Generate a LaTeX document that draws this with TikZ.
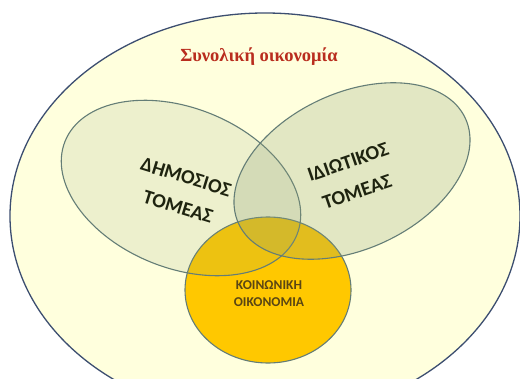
\documentclass[tikz,border=0pt]{standalone}
\usepackage{fontspec}
\setmainfont{Liberation Serif}
\newfontfamily\calib{Carlito}
\usetikzlibrary{shapes.geometric}
\definecolor{outerfill}{RGB}{255,255,221}
\definecolor{outerline}{RGB}{60,78,112}
\definecolor{secfill}{RGB}{140,160,120}
\definecolor{secline}{RGB}{100,125,118}
\definecolor{goldfill}{RGB}{255,200,0}
\definecolor{titlered}{RGB}{185,45,30}
\definecolor{textdark}{RGB}{30,35,15}
\definecolor{socialtext}{RGB}{90,70,20}
\tikzset{
  setshape/.style={ellipse, inner sep=0pt},
  sector/.style={setshape, draw=secline, line width=1.1pt, fill=secfill},
  sectortext/.style={font=\calib\bfseries\fontsize{20}{22}\selectfont, text=textdark, inner sep=0pt},
  socialfont/.style={font=\calib\bfseries\fontsize{13.5}{15}\selectfont, text=socialtext, inner sep=0pt},
}
\begin{document}
\begin{tikzpicture}[x=1pt,y=-1pt]
\useasboundingbox (0,0) rectangle (520,378);
\fill[white] (0,0) rectangle (520,378);
\clip (0,0) rectangle (520,378);
\node[setshape, draw=outerline, line width=1.3pt, fill=outerfill,
      minimum width=510pt, minimum height=406pt] (total) at (265,216) {};
\node[setshape, draw=secline, line width=1.1pt, fill=goldfill,
      minimum width=166pt, minimum height=146pt] (social) at (268,290) {};
\node[sector, fill opacity=0.15, minimum width=250pt, minimum height=160pt, rotate=-22] (public) at (181,188) {};
\node[sector, fill opacity=0.25, minimum width=250pt, minimum height=156pt, rotate=25] (private) at (352,171) {};
\node[font=\bfseries\fontsize{18.5}{20}\selectfont, text=titlered] (title) at (259,57) {Συνολική οικονομία};
\node[sectortext, rotate=-17] (publicA) at (186,177) {ΔΗΜΟΣΙΟΣ};
\node[sectortext, rotate=-17] (publicB) at (178,207) {ΤΟΜΕΑΣ};
\node[sectortext, rotate=19] (privateA) at (348,162) {ΙΔΙΩΤΙΚΟΣ};
\node[sectortext, rotate=19] (privateB) at (357,192) {ΤΟΜΕΑΣ};
\node[socialfont] (socialA) at (269,285) {ΚΟΙΝΩΝΙΚΗ};
\node[socialfont] (socialB) at (269,302) {ΟΙΚΟΝΟΜΙΑ};
\end{tikzpicture}
\end{document}
